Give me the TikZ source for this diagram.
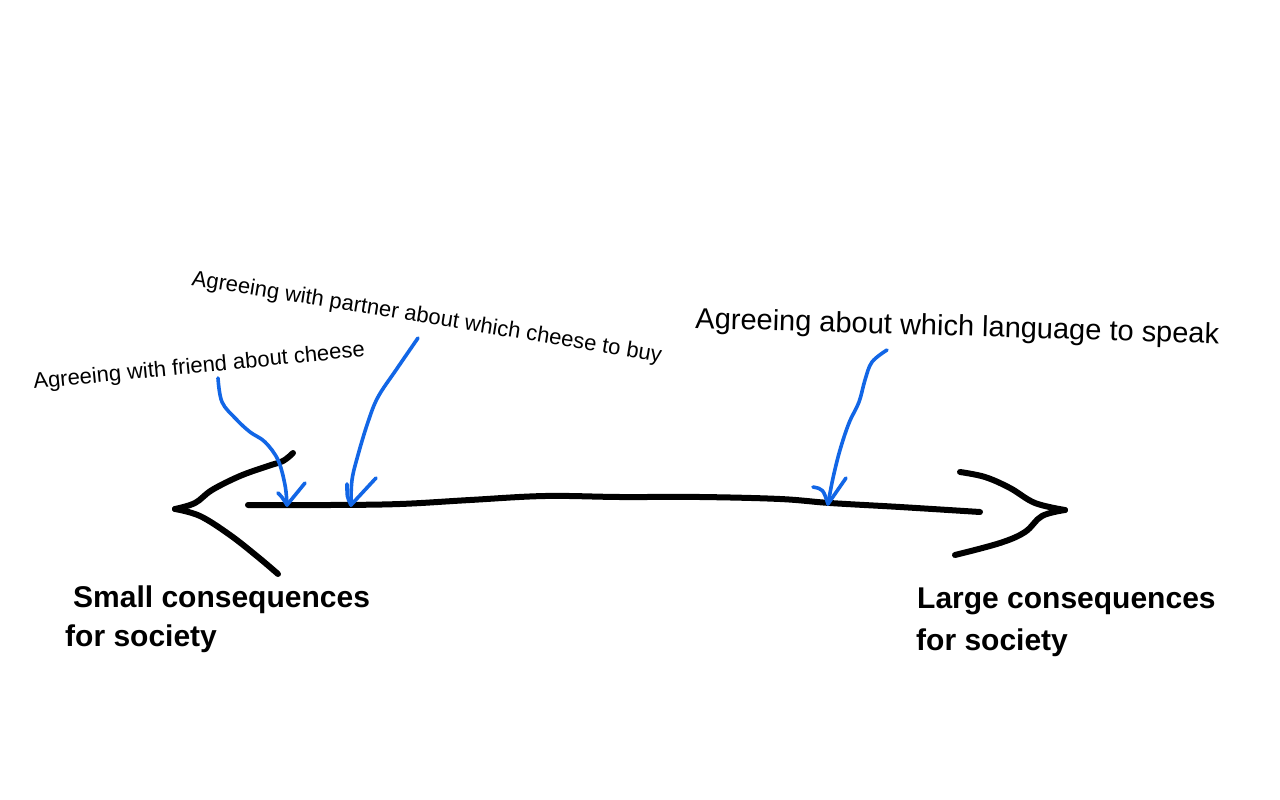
\documentclass[tikz,border=0pt]{standalone}
\usepackage{fontspec}
\setmainfont{Liberation Sans}
\newfontfamily\lblfont{Liberation Sans}
\usetikzlibrary{calc}
\definecolor{penblue}{RGB}{18,102,230}
\begin{document}
\begin{tikzpicture}[x=1pt,y=-1pt,
  ink/.style={line width=6pt,line cap=round,line join=round,black},
  bluepen/.style={line width=3.6pt,line cap=round,line join=round,penblue},
  smalllbl/.style={inner sep=0pt,anchor=base west,font=\lblfont\fontsize{22}{26}\selectfont},
  biglbl/.style={inner sep=0pt,anchor=base west,font=\lblfont\fontsize{29}{34}\selectfont},
  endlbl/.style={inner sep=0pt,anchor=base west,font=\lblfont\bfseries\fontsize{30}{34}\selectfont}]
\useasboundingbox (0,0) rectangle (1280,800);
\fill[white] (0,0) rectangle (1280,800);

% main line
\draw[ink] plot[smooth,tension=0.6] coordinates {(248,505) (330,505) (400,504) (470,500) (545,496) (620,497) (700,497) (780,499) (830,503) (900,507) (980,512)};
% left arrowhead
\draw[ink] plot[smooth,tension=0.6] coordinates {(293,453) (283,461) (268,466) (240,476) (212,490) (195,503) (175,509)};
\draw[ink] plot[smooth,tension=0.6] coordinates {(175,509) (200,516) (230,535) (258,557) (278,574)};
% right arrowhead
\draw[ink] plot[smooth,tension=0.6] coordinates {(960,472) (985,477) (1010,488) (1035,503) (1065,510)};
\draw[ink] plot[smooth,tension=0.6] coordinates {(1065,510) (1042,516) (1025,532) (1000,543) (955,555)};

% labels
\node[smalllbl,rotate=5.6] (friend) at (34,389) {Agreeing with friend about cheese};
\node[smalllbl,rotate=-9.3] (partner) at (191,285) {Agreeing with partner about which cheese to buy};
\node[biglbl,rotate=-1.7] (lang) at (695,328) {Agreeing about which language to speak};
\node[endlbl] (small1) at (73,607) {Small consequences};
\node[endlbl] (small2) at (65,646) {for society};
\node[endlbl] (large1) at (917,608) {Large consequences};
\node[endlbl] (large2) at (916,650) {for society};

% blue arrows
\coordinate (f0) at (218,378);
\coordinate (f1) at (287,505);
\draw[bluepen] plot[smooth,tension=0.6] coordinates {(f0) (222,402) (236,419) (250,432) (265,442) (278,460) (285,485) (f1)};
\draw[bluepen] (278,493) .. controls (282,497) .. (f1) -- (305,483);

\coordinate (p0) at (418,338);
\coordinate (p1) at (351,505);
\draw[bluepen] plot[smooth,tension=0.6] coordinates {(p0) (396,370) (378,397) (368,422) (358,455) (352,480) (p1)};
\draw[bluepen] (347,484) .. controls (347,497) .. (p1) -- (376,478);

\coordinate (l0) at (887,350);
\coordinate (l1) at (828,504);
\draw[bluepen] plot[smooth,tension=0.6] coordinates {(l0) (872,362) (865,380) (859,402) (849,423) (840,450) (833,478) (l1)};
\draw[bluepen] (813,487) .. controls (823,489) .. (l1) -- (846,478);
\end{tikzpicture}
\end{document}
